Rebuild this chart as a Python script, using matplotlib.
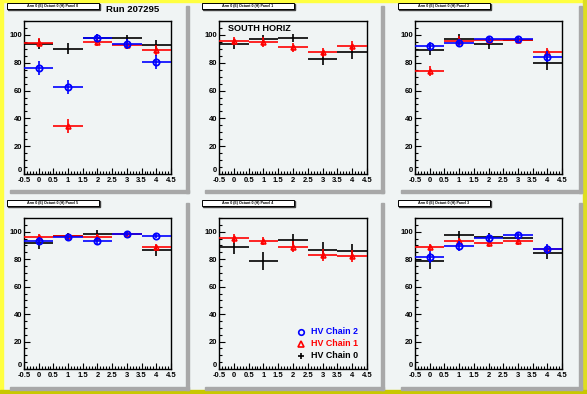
import matplotlib.pyplot as plt
from matplotlib.patches import Rectangle
from matplotlib.ticker import MultipleLocator

plt.rcParams['font.family'] = ['Liberation Sans', 'DejaVu Sans']

W, H = 587, 394
BG = '#f0f4f4'

bins = [0, 1, 2, 3, 4]

# panel order on the canvas: top row 0,1,2 ; bottom row 5,4,3
panel_names = ['Panel 0', 'Panel 1', 'Panel 2', 'Panel 5', 'Panel 4', 'Panel 3']

# HV Chain 0 (black)
chain0 = [
    [93.3, 90.2, 97.6, 97.6, 92.8],
    [93.2, 96.9, 97.6, 83.0, 87.4],
    [89.5, 97.3, 93.7, 96.6, 79.8],
    [91.7, 96.8, 98.3, 98.3, 86.6],
    [89.0, 78.8, 94.1, 86.6, 86.1],
    [78.6, 97.6, 96.1, 95.4, 84.4],
]
chain0_err = [
    [3.5, 4.0, 3.0, 2.5, 3.5],
    [3.5, 3.0, 3.0, 4.5, 4.5],
    [4.0, 3.0, 4.0, 2.0, 5.0],
    [4.0, 2.5, 3.0, 1.5, 4.0],
    [5.5, 6.5, 4.0, 6.0, 5.0],
    [6.0, 3.0, 3.0, 3.0, 4.5],
]

# HV Chain 1 (red)
chain1 = [
    [94.5, 34.8, 94.7, 93.0, 89.0],
    [95.4, 94.7, 91.0, 87.4, 91.8],
    [74.0, 95.9, 96.6, 96.1, 87.8],
    [96.1, 96.6, 96.1, 98.3, 88.8],
    [95.1, 93.4, 89.0, 83.2, 82.4],
    [88.8, 93.2, 91.5, 93.2, 87.3],
]
chain1_err = [
    [3.0, 5.0, 3.0, 3.0, 4.0],
    [3.0, 3.5, 3.5, 3.5, 3.5],
    [3.5, 3.0, 2.0, 2.0, 3.0],
    [2.5, 2.0, 2.5, 1.5, 2.5],
    [3.0, 3.0, 4.0, 4.5, 4.5],
    [2.5, 2.5, 2.5, 3.0, 3.0],
]

# HV Chain 2 (blue); absent in panels 1 and 4
chain2 = [
    [76.0, 62.4, 97.6, 93.3, 80.3],
    None,
    [92.2, 94.4, 97.3, 97.0, 84.2],
    [93.2, 96.1, 93.2, 98.3, 96.8],
    None,
    [81.5, 89.5, 95.4, 97.6, 87.3],
]
chain2_err = [
    [5.0, 5.0, 3.0, 3.5, 5.0],
    None,
    [3.0, 2.5, 2.0, 2.0, 4.0],
    [3.0, 2.0, 3.0, 1.5, 1.5],
    None,
    [4.5, 3.5, 3.0, 2.0, 3.5],
]

xtick_vals = [-0.5, 0, 0.5, 1, 1.5, 2, 2.5, 3, 3.5, 4, 4.5]
xtick_labels = ['-0.5', '0', '0.5', '1', '1.5', '2', '2.5', '3', '3.5', '4', '4.5']
ytick_vals = [0, 20, 40, 60, 80, 100]

# pixel layout: pad box (l, t, r, b) and axes box (l, t, r, b)
pads = [(7, 3, 186, 190), (202, 3, 381, 190), (398, 3, 579, 190),
        (7, 200, 186, 387), (202, 200, 381, 387), (398, 200, 579, 387)]
axes_px = [(24, 21, 171, 174), (219, 21, 367, 174), (415, 21, 562, 174),
           (24, 218, 171, 369), (219, 218, 367, 369), (415, 218, 562, 369)]


def fx(x):
    return x / W


def fy(y):
    return 1 - y / H


def box(x0, y0, x1, y1, **kw):
    # rectangle given in pixels from the top-left corner
    r = Rectangle((fx(x0), fy(y1)), fx(x1 - x0), (y1 - y0) / H,
                  transform=fig.transFigure, **kw)
    fig.patches.append(r)
    return r


fig = plt.figure(figsize=(W / 100, H / 100), dpi=100)
fig.patch.set_facecolor(BG)

# canvas border
box(0, 0, 3, H, color='#ffff40', zorder=0)
box(0, 0, W, 1.5, color='#ffff40', zorder=0)
box(583, 0, W, H, color='#dede20', zorder=0)
box(0, 390, W, H, color='#c8c800', zorder=0)

for i in range(6):
    l, t, r, b = pads[i]
    # pad shadow
    box(r, t + 3, r + 3, b + 3, color='#a8a8a8', zorder=0)
    box(l + 3, b, r + 3, b + 3, color='#a8a8a8', zorder=0)
    # title box
    box(l + 1, t + 1, l + 93, t + 7, color='#404040', zorder=1)
    box(l, t, l + 92, t + 6, facecolor='white', edgecolor='black', lw=0.7, zorder=2)
    fig.text(fx(l + 46), fy(t + 3), 'Arm 0 (E) Octant 0 (H) ' + panel_names[i],
             fontsize=2.6, weight='bold', ha='center', va='center', zorder=3)

    al, at, ar, ab = axes_px[i]
    ax = fig.add_axes([fx(al), fy(ab), fx(ar - al), (ab - at) / H])
    ax.set_zorder(5)
    ax.set_facecolor(BG)
    ax.set_xlim(-0.5, 4.5)
    ax.set_ylim(0, 110)
    ax.set_xticks(xtick_vals)
    ax.set_xticklabels(xtick_labels)
    ax.set_yticks(ytick_vals)
    ax.xaxis.set_minor_locator(MultipleLocator(0.1))
    ax.yaxis.set_minor_locator(MultipleLocator(5))
    ax.tick_params(which='both', direction='in', labelsize=5.5, width=0.8)
    ax.tick_params(axis='x', pad=2)
    ax.tick_params(axis='y', pad=1.5)
    ax.tick_params(which='major', length=4.5)
    ax.tick_params(which='minor', length=2.2)
    for lab in ax.get_xticklabels() + ax.get_yticklabels():
        lab.set_fontweight('bold')
    # the "0" label sits on the axis line, as ROOT draws it
    ax.get_yticklabels()[0].set_va('bottom')
    for sp in ax.spines.values():
        sp.set_linewidth(1.0)

    ax.errorbar(bins, chain0[i], xerr=0.5, yerr=chain0_err[i], fmt='none',
                ecolor='black', elinewidth=1.2, capsize=0, zorder=3)
    ax.errorbar(bins, chain1[i], xerr=0.5, yerr=chain1_err[i], fmt='^', color='red',
                mfc='none', mec='red', ms=3.5, mew=1.2, elinewidth=1.2, capsize=0, zorder=4)
    if chain2[i] is not None:
        ax.errorbar(bins, chain2[i], xerr=0.5, yerr=chain2_err[i], fmt='o', color='blue',
                    mfc='none', mec='blue', ms=4.5, mew=1.3, elinewidth=1.2, capsize=0, zorder=5)

    if i == 1:
        ax.text(0.06, 0.95, 'SOUTH HORIZ', transform=ax.transAxes, fontsize=6.6,
                weight='bold', va='center')
    if i == 4:
        leg_y = [332, 344, 356]
        labels = ['HV Chain 2', 'HV Chain 1', 'HV Chain 0']
        colors = ['blue', 'red', 'black']
        marks = ['o', '^', '+']
        for y, lab, c, m in zip(leg_y, labels, colors, marks):
            ax.plot([fx(301)], [fy(y)], transform=fig.transFigure, marker=m, ms=4,
                    mfc='none', mec=c, mew=1.2, clip_on=False, zorder=6)
            ax.text(fx(311), fy(y), lab, transform=fig.transFigure, color=c,
                    fontsize=6.4, weight='bold', va='center', zorder=6)

fig.text(fx(106), fy(9), 'Run 207295', fontsize=6.8, weight='bold', va='center')

fig.savefig('out.png', dpi=100, facecolor=fig.get_facecolor())
